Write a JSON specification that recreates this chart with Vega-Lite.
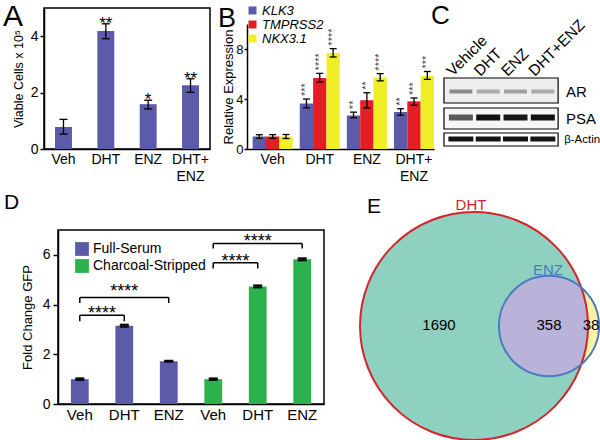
{
  "$schema": "https://vega.github.io/schema/vega-lite/v6.json",
  "background": "white",
  "padding": {"left": 2, "top": 0, "right": 0, "bottom": 0},
  "spacing": 7,
  "resolve": {"scale": {"color": "independent", "fill": "independent", "size": "independent"}, "legend": {"color": "independent", "fill": "independent", "size": "independent"}},
  "config": {
    "view": {"stroke": null},
    "font": "Liberation Sans",
    "axis": {"domainColor": "black", "tickColor": "black", "labelColor": "black", "titleColor": "black", "grid": false, "titleFontWeight": "normal", "domainWidth": 1.5, "tickWidth": 1.5},
    "legend": {"labelColor": "black"},
    "title": {"fontWeight": "normal", "color": "black"}
  },
  "vconcat": [
    {
      "bounds": "flush",
      "spacing": 37,
      "resolve": {"scale": {"color": "independent", "fill": "independent", "size": "independent"}, "legend": {"color": "independent", "fill": "independent", "size": "independent"}},
      "hconcat": [
        {
          "width": 166, "height": 141,
          "view": {"stroke": "black", "strokeWidth": 1.5},
          "title": {"text": "A", "anchor": "start", "frame": "group", "orient": "top", "offset": 0, "dx": -41, "dy": 47.5, "fontSize": 30, "baseline": "alphabetic"},
          "data": {"values": [
            {"treatment": "Veh", "cells": 0.78, "low": 0.53, "high": 1.05, "sig": ""},
            {"treatment": "DHT", "cells": 4.18, "low": 3.91, "high": 4.44, "sig": "**"},
            {"treatment": "ENZ", "cells": 1.59, "low": 1.42, "high": 1.73, "sig": "*"},
            {"treatment": "DHT+ENZ", "cells": 2.26, "low": 2.01, "high": 2.49, "sig": "**"}
          ]},
          "encoding": {
            "x": {"field": "treatment", "type": "nominal", "sort": null, "scale": {"paddingInner": 0.6, "paddingOuter": 0.26},
              "axis": {"title": null, "ticks": false, "labelAngle": 0, "labelFontSize": 14, "labelPadding": 3, "labelLineHeight": 17, "labelExpr": "datum.label == 'DHT+ENZ' ? ['DHT+', 'ENZ'] : datum.label"}}
          },
          "layer": [
            {"mark": {"type": "bar", "color": "#5B5BAA"},
             "encoding": {"y": {"field": "cells", "type": "quantitative", "scale": {"domain": [0, 5]},
               "axis": {"title": "Viable Cells x 10⁵", "values": [0, 1, 2, 3, 4, 5], "tickSize": 4, "labelFontSize": 14, "labelPadding": 2, "titleFontSize": 12.5, "titlePadding": 5}}}},
            {"mark": {"type": "rule", "color": "black", "strokeWidth": 1.3},
             "encoding": {"y": {"field": "low", "type": "quantitative"}, "y2": {"field": "high"}}},
            {"mark": {"type": "tick", "orient": "horizontal", "color": "black", "size": 8, "thickness": 1.3, "opacity": 1},
             "encoding": {"y": {"field": "low", "type": "quantitative"}}},
            {"mark": {"type": "tick", "orient": "horizontal", "color": "black", "size": 8, "thickness": 1.3, "opacity": 1},
             "encoding": {"y": {"field": "high", "type": "quantitative"}}},
            {"mark": {"type": "text", "fontSize": 17, "baseline": "alphabetic", "dy": 5, "color": "black"},
             "encoding": {"y": {"field": "high", "type": "quantitative"}, "text": {"field": "sig"}}}
          ]
        },
        {
          "width": 187, "height": 141,
          "title": {"text": "B", "anchor": "start", "frame": "group", "orient": "top", "offset": 0, "dx": -29, "dy": 50, "fontSize": 27, "baseline": "alphabetic"},
          "data": {"values": [
            {"treatment": "Veh", "gene": "KLK3", "expr": 1.0, "low": 0.86, "high": 1.14, "sig": ""},
            {"treatment": "Veh", "gene": "TMPRSS2", "expr": 1.0, "low": 0.85, "high": 1.15, "sig": ""},
            {"treatment": "Veh", "gene": "NKX3.1", "expr": 1.0, "low": 0.84, "high": 1.16, "sig": ""},
            {"treatment": "DHT", "gene": "KLK3", "expr": 3.65, "low": 3.3, "high": 4.0, "sig": "***"},
            {"treatment": "DHT", "gene": "TMPRSS2", "expr": 5.68, "low": 5.36, "high": 6.05, "sig": "****"},
            {"treatment": "DHT", "gene": "NKX3.1", "expr": 7.68, "low": 7.36, "high": 8.03, "sig": "****"},
            {"treatment": "ENZ", "gene": "KLK3", "expr": 2.69, "low": 2.5, "high": 2.95, "sig": "**"},
            {"treatment": "ENZ", "gene": "TMPRSS2", "expr": 3.9, "low": 3.28, "high": 4.5, "sig": "**"},
            {"treatment": "ENZ", "gene": "NKX3.1", "expr": 5.73, "low": 5.45, "high": 6.03, "sig": "****"},
            {"treatment": "DHT+ENZ", "gene": "KLK3", "expr": 2.96, "low": 2.7, "high": 3.22, "sig": "**"},
            {"treatment": "DHT+ENZ", "gene": "TMPRSS2", "expr": 3.81, "low": 3.5, "high": 4.08, "sig": "***"},
            {"treatment": "DHT+ENZ", "gene": "NKX3.1", "expr": 5.84, "low": 5.57, "high": 6.2, "sig": "***"}
          ]},
          "encoding": {
            "x": {"field": "treatment", "type": "nominal", "sort": null, "scale": {"paddingInner": 0.15, "paddingOuter": 0.06, "align": 1},
              "axis": {"title": null, "ticks": false, "labelAngle": 0, "labelFontSize": 14, "labelPadding": 3, "labelLineHeight": 17, "labelExpr": "datum.label == 'DHT+ENZ' ? ['DHT+', 'ENZ'] : datum.label"}},
            "xOffset": {"field": "gene", "type": "nominal", "sort": ["KLK3", "TMPRSS2", "NKX3.1"]}
          },
          "layer": [
            {"mark": {"type": "bar"},
             "encoding": {
               "y": {"field": "expr", "type": "quantitative", "scale": {"domain": [0, 10], "range": [141, 16]},
                 "axis": {"title": "Relative Expression", "values": [0, 2, 4, 6, 8, 10], "tickSize": 3, "labelPadding": 1, "labelFontSize": 13, "titleFontSize": 13, "titlePadding": 0}},
               "color": {"field": "gene", "type": "nominal", "scale": {"domain": ["KLK3", "TMPRSS2", "NKX3.1"], "range": ["#5B5BAA", "#E41E26", "#F0EE26"]},
                 "legend": {"orient": "none", "legendX": -1, "legendY": -4, "title": null, "symbolType": "square", "symbolSize": 64, "symbolStrokeWidth": 0, "labelFontSize": 13, "labelFontStyle": "italic", "rowPadding": 0, "labelOffset": 3}}
             }},
            {"mark": {"type": "rule", "color": "black", "strokeWidth": 1.3},
             "encoding": {"y": {"field": "low", "type": "quantitative"}, "y2": {"field": "high"}}},
            {"mark": {"type": "tick", "orient": "horizontal", "color": "black", "size": 7, "thickness": 1.3, "opacity": 1},
             "encoding": {"y": {"field": "low", "type": "quantitative"}}},
            {"mark": {"type": "tick", "orient": "horizontal", "color": "black", "size": 7, "thickness": 1.3, "opacity": 1},
             "encoding": {"y": {"field": "high", "type": "quantitative"}}},
            {"mark": {"type": "text", "angle": 270, "align": "left", "baseline": "middle", "dx": 3, "fontSize": 11, "color": "#444444"},
             "encoding": {"y": {"field": "high", "type": "quantitative"}, "text": {"field": "sig"}}}
          ]
        },
        {
          "width": 130, "height": 141,
          "title": {"text": "C", "anchor": "start", "frame": "group", "orient": "top", "offset": 0, "dx": -40, "dy": 42, "fontSize": 26, "baseline": "alphabetic"},
          "layer": [
            {"data": {"values": [
               {"protein": "AR", "top": 7.0, "bottom": 9.5},
               {"protein": "PSA", "top": 10.0, "bottom": 12.1},
               {"protein": "β-Actin", "top": 12.5, "bottom": 13.8}
             ]},
             "mark": {"type": "rect", "stroke": "black", "strokeWidth": 1.2},
             "encoding": {
               "x": {"datum": 0.38, "type": "quantitative", "scale": {"domain": [1.37, 6.13], "nice": false, "zero": false}, "axis": null},
               "x2": {"datum": 4.56},
               "y": {"field": "top", "type": "quantitative", "scale": {"domain": [0, 14.1], "reverse": true, "nice": false, "zero": false}, "axis": null},
               "y2": {"field": "bottom"},
               "fill": {"field": "protein", "type": "nominal", "scale": {"domain": ["AR", "PSA", "β-Actin"], "range": ["#eeeeee", "#f6f6f6", "#ffffff"]}, "legend": null}
             }},
            {"data": {"values": [
               {"protein": "AR", "lane": 1, "row": 8.35, "density": 0.42},
               {"protein": "AR", "lane": 2, "row": 8.35, "density": 0.3},
               {"protein": "AR", "lane": 3, "row": 8.35, "density": 0.34},
               {"protein": "AR", "lane": 4, "row": 8.35, "density": 0.3}
             ]},
             "mark": {"type": "tick", "orient": "horizontal", "size": 23, "thickness": 4, "opacity": 1},
             "encoding": {
               "x": {"field": "lane", "type": "quantitative"},
               "y": {"field": "row", "type": "quantitative"},
               "color": {"field": "density", "type": "quantitative", "scale": {"domain": [0, 1], "range": ["#ffffff", "#000000"]}, "legend": null}
             }},
            {"data": {"values": [
               {"protein": "PSA", "lane": 1, "row": 10.95, "density": 0.62},
               {"protein": "PSA", "lane": 2, "row": 10.95, "density": 0.95},
               {"protein": "PSA", "lane": 3, "row": 10.95, "density": 0.92},
               {"protein": "PSA", "lane": 4, "row": 10.95, "density": 0.94}
             ]},
             "mark": {"type": "tick", "orient": "horizontal", "size": 24, "thickness": 6, "opacity": 1},
             "encoding": {
               "x": {"field": "lane", "type": "quantitative"},
               "y": {"field": "row", "type": "quantitative"},
               "color": {"field": "density", "type": "quantitative", "scale": {"domain": [0, 1], "range": ["#ffffff", "#000000"]}, "legend": null}
             }},
            {"data": {"values": [
               {"protein": "β-Actin", "lane": 1, "row": 13.1, "density": 0.93},
               {"protein": "β-Actin", "lane": 2, "row": 13.1, "density": 0.93},
               {"protein": "β-Actin", "lane": 3, "row": 13.1, "density": 0.93},
               {"protein": "β-Actin", "lane": 4, "row": 13.1, "density": 0.93}
             ]},
             "mark": {"type": "tick", "orient": "horizontal", "size": 25, "thickness": 5, "opacity": 1},
             "encoding": {
               "x": {"field": "lane", "type": "quantitative"},
               "y": {"field": "row", "type": "quantitative"},
               "color": {"field": "density", "type": "quantitative", "scale": {"domain": [0, 1], "range": ["#ffffff", "#000000"]}, "legend": null}
             }},
            {"data": {"values": [
               {"protein": "AR", "row": 8.4},
               {"protein": "PSA", "row": 11.05}
             ]},
             "mark": {"type": "text", "align": "left", "baseline": "middle", "fontSize": 15, "color": "black"},
             "encoding": {"x": {"datum": 4.85, "type": "quantitative"}, "y": {"field": "row", "type": "quantitative"}, "text": {"field": "protein"}}},
            {"data": {"values": [
               {"protein": "β-Actin", "row": 13.15}
             ]},
             "mark": {"type": "text", "align": "left", "baseline": "middle", "fontSize": 11.5, "color": "black"},
             "encoding": {"x": {"datum": 4.78, "type": "quantitative"}, "y": {"field": "row", "type": "quantitative"}, "text": {"field": "protein"}}},
            {"data": {"values": [
               {"treatment": "Vehicle", "lane": 1, "row": 6.9},
               {"treatment": "DHT", "lane": 2, "row": 6.9},
               {"treatment": "ENZ", "lane": 3, "row": 6.9},
               {"treatment": "DHT+ENZ", "lane": 4, "row": 6.9}
             ]},
             "mark": {"type": "text", "angle": 315, "align": "left", "baseline": "alphabetic", "dx": -5.7, "dy": -5.7, "fontSize": 15.5, "color": "black"},
             "encoding": {"x": {"field": "lane", "type": "quantitative"}, "y": {"field": "row", "type": "quantitative"}, "text": {"field": "treatment"}}}
          ]
        }
      ]
    },
    {
      "bounds": "flush",
      "spacing": 7,
      "resolve": {"scale": {"color": "independent", "fill": "independent", "size": "independent"}, "legend": {"color": "independent", "fill": "independent", "size": "independent"}},
      "hconcat": [
        {"width": 7, "height": 174, "data": {"values": [{"blank": 0}]}, "mark": {"type": "point", "opacity": 0}},
        {
          "width": 266, "height": 174,
          "view": {"stroke": "black", "strokeWidth": 1.5},
          "title": {"text": "D", "anchor": "start", "frame": "group", "orient": "top", "offset": 0, "dx": -54, "dy": 0, "fontSize": 21, "baseline": "alphabetic"},
          "layer": [
            {"data": {"values": [
               {"sample": "Veh-F", "medium": "Full-Serum", "fold": 1.0, "low": 0.97, "high": 1.03},
               {"sample": "DHT-F", "medium": "Full-Serum", "fold": 3.15, "low": 3.11, "high": 3.19},
               {"sample": "ENZ-F", "medium": "Full-Serum", "fold": 1.72, "low": 1.7, "high": 1.74},
               {"sample": "Veh-C", "medium": "Charcoal-Stripped", "fold": 1.0, "low": 0.97, "high": 1.03},
               {"sample": "DHT-C", "medium": "Charcoal-Stripped", "fold": 4.73, "low": 4.69, "high": 4.77},
               {"sample": "ENZ-C", "medium": "Charcoal-Stripped", "fold": 5.82, "low": 5.78, "high": 5.86}
             ]},
             "encoding": {
               "x": {"field": "sample", "type": "nominal", "scale": {"domain": ["Veh-F", "DHT-F", "ENZ-F", "Veh-C", "DHT-C", "ENZ-C"], "paddingInner": 0.6, "paddingOuter": 0.29},
                 "axis": {"title": null, "ticks": false, "labelAngle": 0, "labelFontSize": 15, "labelPadding": 3, "labelExpr": "split(datum.label, '-')[0]"}}
             },
             "layer": [
               {"mark": {"type": "bar"},
                "encoding": {
                  "y": {"field": "fold", "type": "quantitative", "scale": {"domain": [0, 7]},
                    "axis": {"title": "Fold Change GFP", "values": [0, 1, 2, 3, 4, 5, 6, 7], "tickSize": 5, "labelPadding": 3, "labelFontSize": 14, "titleFontSize": 13, "titlePadding": 8}},
                  "color": {"field": "medium", "type": "nominal", "scale": {"domain": ["Full-Serum", "Charcoal-Stripped"], "range": ["#5B5BAA", "#2BB24C"]},
                    "legend": {"orient": "none", "legendX": 17, "legendY": 12, "title": null, "symbolType": "square", "symbolSize": 190, "symbolStrokeWidth": 0, "labelFontSize": 14, "rowPadding": 3, "labelOffset": 4}}
                }},
               {"mark": {"type": "rule", "color": "black", "strokeWidth": 1.3},
                "encoding": {"y": {"field": "low", "type": "quantitative"}, "y2": {"field": "high"}}},
               {"mark": {"type": "tick", "orient": "horizontal", "color": "black", "size": 9, "thickness": 2, "opacity": 1},
                "encoding": {"y": {"field": "low", "type": "quantitative"}}},
               {"mark": {"type": "tick", "orient": "horizontal", "color": "black", "size": 9, "thickness": 2, "opacity": 1},
                "encoding": {"y": {"field": "high", "type": "quantitative"}}}
             ]},
            {"data": {"values": [
               {"from": "Veh-F", "to": "DHT-F", "mid": "Veh-F", "span": "near", "top": 3.57, "foot": 3.33, "stars": 3.8, "label": "****"},
               {"from": "Veh-F", "to": "ENZ-F", "mid": "DHT-F", "span": "wide", "top": 4.28, "foot": 4.06, "stars": 4.69, "label": "****"},
               {"from": "Veh-C", "to": "DHT-C", "mid": "Veh-C", "span": "near", "top": 5.68, "foot": 5.45, "stars": 5.9, "label": "****"},
               {"from": "Veh-C", "to": "ENZ-C", "mid": "DHT-C", "span": "wide", "top": 6.46, "foot": 6.26, "stars": 6.7, "label": "****"}
             ]},
             "layer": [
               {"mark": {"type": "rule", "color": "black", "strokeWidth": 1.5},
                "encoding": {"x": {"field": "from", "type": "nominal", "axis": {"title": null}}, "x2": {"field": "to"}, "y": {"field": "top", "type": "quantitative"}}},
               {"mark": {"type": "rule", "color": "black", "strokeWidth": 1.5},
                "encoding": {"x": {"field": "from", "type": "nominal", "axis": {"title": null}}, "y": {"field": "foot", "type": "quantitative"}, "y2": {"field": "top"}}},
               {"mark": {"type": "rule", "color": "black", "strokeWidth": 1.5},
                "encoding": {"x": {"field": "to", "type": "nominal", "axis": {"title": null}}, "y": {"field": "foot", "type": "quantitative"}, "y2": {"field": "top"}}},
               {"transform": [{"filter": "datum.span == 'near'"}],
                "mark": {"type": "text", "fontSize": 18, "baseline": "middle", "align": "center", "dy": 4.5, "color": "black"},
                "encoding": {"x": {"field": "from", "type": "nominal", "bandPosition": 1.75, "axis": {"title": null}}, "y": {"field": "stars", "type": "quantitative"}, "text": {"field": "label"}}},
               {"transform": [{"filter": "datum.span == 'wide'"}],
                "mark": {"type": "text", "fontSize": 18, "baseline": "middle", "align": "center", "dy": 4.5, "color": "black"},
                "encoding": {"x": {"field": "mid", "type": "nominal", "axis": {"title": null}}, "y": {"field": "stars", "type": "quantitative"}, "text": {"field": "label"}}}
             ]}
          ]
        },
        {
          "width": 270, "height": 174,
          "title": {"text": "E", "anchor": "start", "frame": "group", "orient": "top", "offset": 0, "dx": 36, "dy": 36, "fontSize": 21, "baseline": "alphabetic"},
          "layer": [
            {"data": {"values": [
               {"set": "DHT", "cx": 14.3, "cy": 7.8, "genes": 2048},
               {"set": "ENZ", "cx": 21.8, "cy": 7.8, "genes": 396}
             ]},
             "encoding": {
               "x": {"field": "cx", "type": "quantitative", "scale": {"domain": [0, 27], "nice": false, "zero": false}, "axis": null},
               "y": {"field": "cy", "type": "quantitative", "scale": {"domain": [0, 17.4], "nice": false, "zero": false}, "axis": null},
               "size": {"field": "genes", "type": "quantitative", "scale": {"domain": [0, 2048], "range": [0, 51984]}, "legend": null}
             },
             "layer": [
               {"transform": [{"filter": "datum.set == 'DHT'"}],
                "mark": {"type": "point", "shape": "circle", "filled": true, "color": "#8FD1C1", "opacity": 1, "strokeWidth": 0}},
               {"transform": [{"filter": "datum.set == 'ENZ'"}],
                "mark": {"type": "point", "shape": "circle", "filled": true, "color": "#B9B3D9", "opacity": 1, "strokeWidth": 0}},
               {"transform": [{"filter": "datum.set == 'ENZ'"}],
                "mark": {"type": "point", "shape": "M0.649,-0.761 A1,1 0 0 1 0.649,0.761 A2.28,2.28 0 0 0 0.649,-0.761 Z", "filled": true, "color": "#F8F3A6", "opacity": 1, "strokeWidth": 0}},
               {"transform": [{"filter": "datum.set == 'DHT'"}],
                "mark": {"type": "point", "shape": "circle", "filled": false, "color": "#D4242B", "opacity": 1, "strokeWidth": 2}},
               {"transform": [{"filter": "datum.set == 'ENZ'"}],
                "mark": {"type": "point", "shape": "circle", "filled": false, "color": "#4A7BBF", "opacity": 1, "strokeWidth": 2}}
             ]},
            {"data": {"values": [
               {"label": "DHT", "kind": "DHT", "lx": 14.0, "ly": 19.9},
               {"label": "ENZ", "kind": "ENZ", "lx": 21.7, "ly": 13.4},
               {"label": "1690", "kind": "count", "lx": 10.8, "ly": 7.95},
               {"label": "358", "kind": "count", "lx": 21.8, "ly": 7.95},
               {"label": "38", "kind": "count", "lx": 26.0, "ly": 7.95}
             ]},
             "mark": {"type": "text", "fontSize": 15, "baseline": "middle", "align": "center"},
             "encoding": {
               "x": {"field": "lx", "type": "quantitative"},
               "y": {"field": "ly", "type": "quantitative"},
               "text": {"field": "label"},
               "color": {"field": "kind", "type": "nominal", "scale": {"domain": ["DHT", "ENZ", "count"], "range": ["#D4242B", "#4A7BBF", "#000000"]}, "legend": null}
             }}
          ]
        }
      ]
    }
  ]
}
